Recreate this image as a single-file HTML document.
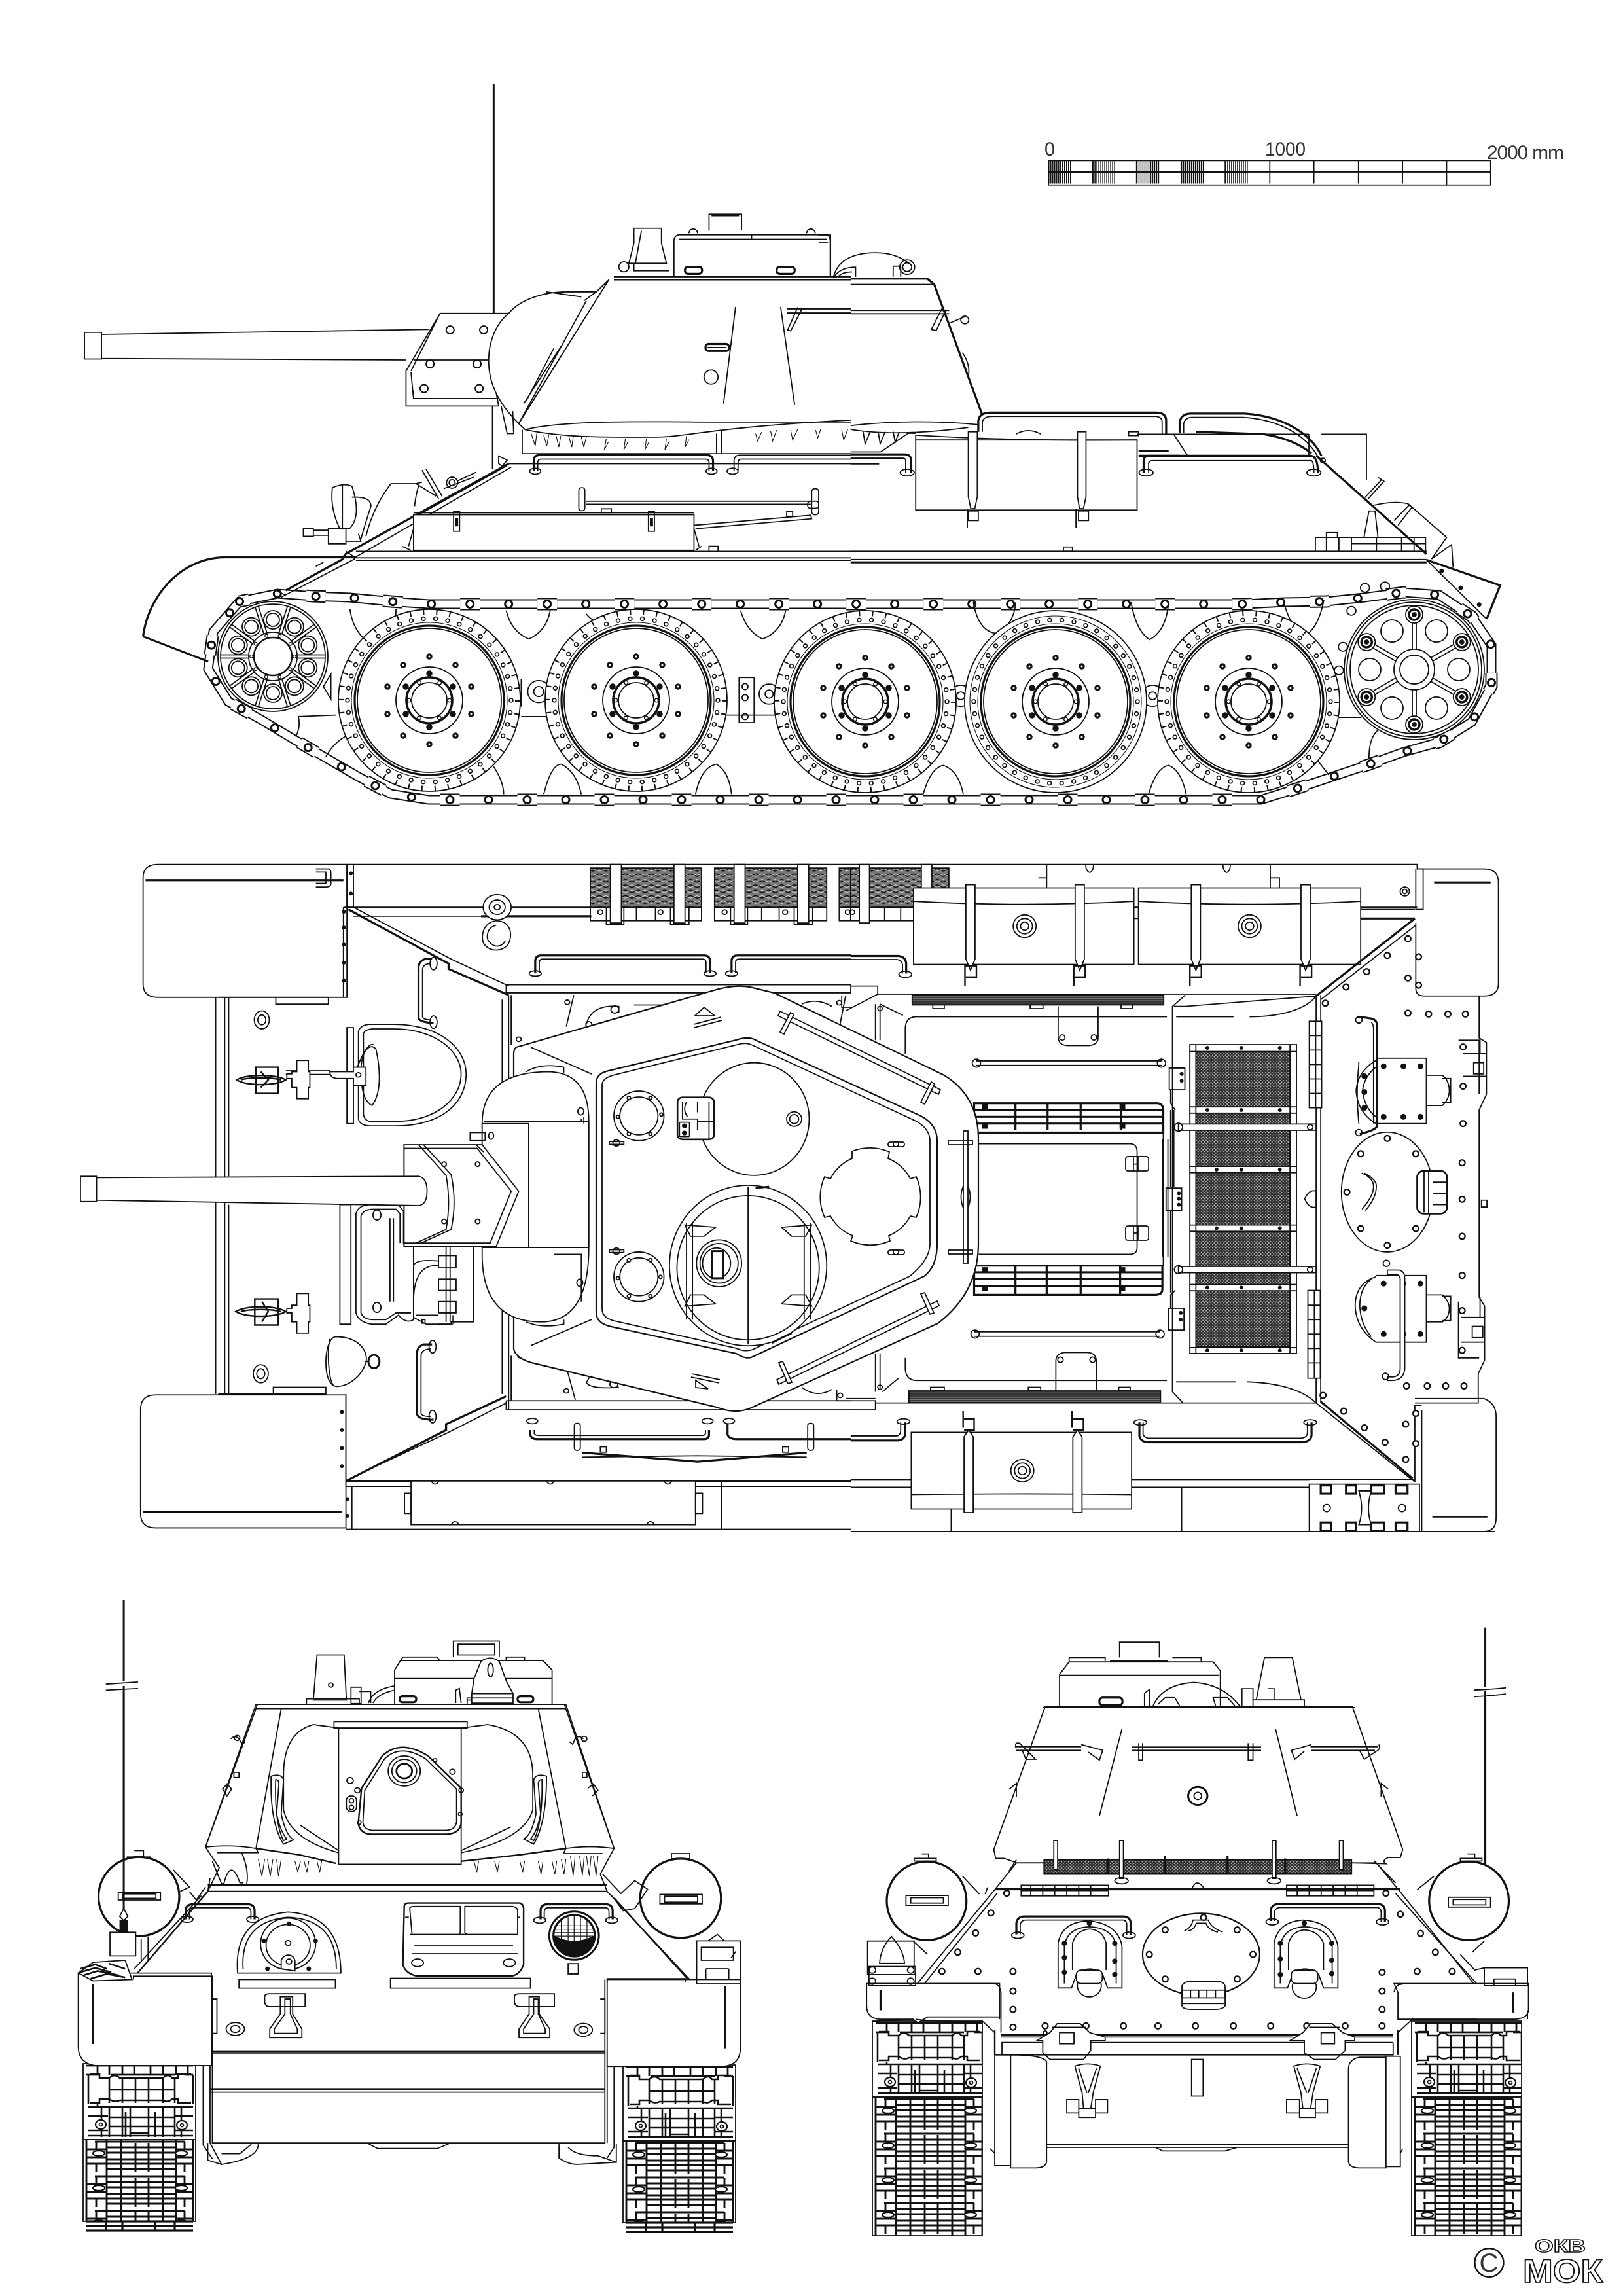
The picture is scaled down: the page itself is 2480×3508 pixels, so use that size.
<!DOCTYPE html>
<html><head><meta charset="utf-8"><title>T-34 drawing</title>
<style>
html,body{margin:0;padding:0;background:#fff}
svg{display:block;fill:none;stroke:#111;stroke-width:1.8}
svg *{vector-effect:non-scaling-stroke}
.w{fill:#fff}.k{fill:#111}.t{stroke-width:3.2}.b{stroke-width:5}.n{stroke-width:1.1}
.dk{stroke-width:11;stroke-linecap:round}.wh{stroke:#fff;stroke-width:6.5;stroke-linecap:round}
.dk2{stroke-width:8;stroke-linecap:round}.wh2{stroke:#fff;stroke-width:4;stroke-linecap:round}
text{font-family:"Liberation Sans",sans-serif;stroke:none;fill:#333}
</style></head><body>
<svg width="2480" height="3508" viewBox="0 0 2480 3508" xmlns="http://www.w3.org/2000/svg">
<defs>
<pattern id="mesh" width="7" height="7" patternUnits="userSpaceOnUse"><rect width="7" height="7" fill="#2a2a2a" stroke="none"/><circle cx="2" cy="2" r="1.5" fill="#bbb" stroke="none"/><circle cx="5.5" cy="5.5" r="1.5" fill="#bbb" stroke="none"/></pattern>
<pattern id="zig" width="26" height="12" patternUnits="userSpaceOnUse"><rect width="26" height="12" fill="#777" stroke="none"/><path d="M0,3 L13,9 L26,3" stroke="#111" stroke-width="2.2"/><path d="M0,9 L13,3 L26,9" stroke="#eee" stroke-width="1"/></pattern>
<pattern id="dark" width="10" height="5" patternUnits="userSpaceOnUse"><rect width="10" height="5" fill="#333" stroke="none"/><path d="M0,2.5H10" stroke="#aaa" stroke-width="1"/></pattern>
<pattern id="tp" width="172" height="116" patternUnits="userSpaceOnUse"><path stroke-width="2.8" d="M5,3H168M5,17H25M42,17H140M155,17H168M22,3V17M40,3V17M60,3V17M78,3V17M103,3V17M122,3V17M142,3V17M160,3V17"/><path stroke-width="2.6" d="M10,16H25V22H40Q48,14 56,22H122Q130,14 136,22H145V16H165M8,17V62M168,17V62M40,22V60M60,22V60M80,22V60M100,22V60M122,22V60M140,22V60M40,40H140M10,60H25V54H40Q48,60 56,56H122Q130,60 136,54H145V60H165"/><path stroke-width="2.6" d="M8,66H168M8,110H168M22,62V66M8,80H38M140,80H168M8,102H38M140,102H168M28,66V112M40,66V112M60,66V112M65,74V112M72,66V112M100,66V112M110,74V112M122,66V112M140,66V112M150,66V112M40,82H140M40,96H140M72,106H100"/><ellipse cx="27" cy="93" rx="8" ry="7" stroke-width="2.2" fill="#fff"/><circle cx="27" cy="93" r="2.5"/><ellipse cx="151" cy="94" rx="8" ry="7" stroke-width="2.2" fill="#fff"/><circle cx="151" cy="94" r="2.5"/></pattern>
<pattern id="tq" width="172" height="53" patternUnits="userSpaceOnUse"><path stroke-width="2.9" d="M36,0V53M58,0V53M80,5V50M100,5V50M122,0V53M142,0V53M18,3H155M36,12H142M5,15H36M142,15H168M36,20H142M5,27H36M142,27H168M36,30H142M5,37H168M36,45H142M20,3V15M20,37V50M155,3V15M155,37V50M5,0V53M168,0V53"/><ellipse cx="24" cy="21" rx="9" ry="4" stroke-width="2.2" fill="#fff"/><ellipse cx="150" cy="21" rx="9" ry="4" stroke-width="2.2" fill="#fff"/></pattern>

<path id="chain" d="M366,919L424,907L479,911L535,913L597,919L655,923H1904L1962,920L2027,919L2084,913L2145,905L2199,909L2249,942L2279,986L2279,1048L2249,1103L2199,1134L2145,1149L2092,1168L2038,1186L1981,1205L1927,1222H655L597,1213L548,1187L498,1158L448,1129L398,1099L349,1072L318,1022L326,965Z"/>
<g id="rwb">
<circle r="125" class="dk2" style="stroke-width:7.5" stroke-dasharray="0 18.7"/>
<circle r="125" class="wh2" style="stroke-width:4" stroke-dasharray="0 18.7"/>
<circle r="119" class="n"/><circle r="114" class="t"/><circle r="110"/>
<circle r="51"/><circle r="35" stroke-width="3.6"/><circle r="27"/>
<circle r="31" class="dk2" style="stroke-width:7" stroke-dasharray="0 32.46"/>
<circle r="31" class="wh2" style="stroke-width:4" stroke-dasharray="0 32.46"/>
<path class="dk" style="stroke-width:9.5" d="M0,-67h0M40,-54h0M64,-21h0M64,21h0M40,54h0M0,67h0M-40,54h0M-64,21h0M-64,-21h0M-40,-54h0M0,-41h0M36,-21h0M36,21h0M0,41h0M-36,21h0M-36,-21h0"/>
<path class="wh" style="stroke-width:3" d="M0,-67h0M40,-54h0M64,-21h0M64,21h0M40,54h0M0,67h0M-40,54h0M-64,21h0M-64,-21h0M-40,-54h0"/>
</g>
<g id="rw"><circle r="139" class="w"/><circle r="135" stroke-width="8" stroke-dasharray="2 18.2"/><use href="#rwb"/></g>
<g id="rw2"><circle r="139" class="w"/><circle r="131" class="n"/><use href="#rwb"/></g>
<g id="sph"><circle cy="-56" r="14"/><circle cy="-56" r="10"/><path transform="rotate(18)" d="M-2.5,-37V-80M2.5,-37V-80"/></g>
<g id="rsp"><path d="M-3,-31V-98M3,-31V-98"/><circle cy="-84" r="13" class="w"/><circle cy="-84" r="8" stroke-width="3.5"/><circle cy="-84" r="3" class="k"/><circle transform="rotate(30)" cy="-68" r="17" class="w"/></g>
</defs>
<rect width="2480" height="3508" fill="#fff" stroke="none"/>

<!-- ============ SIDE VIEW: tracks ============ -->
<use href="#chain" stroke-width="15"/>
<use href="#chain" stroke="#fff" stroke-width="11"/>
<use href="#chain" stroke-width="19" stroke-dasharray="30 88" stroke-dashoffset="15"/>
<use href="#chain" stroke="#fff" stroke-width="15" stroke-dasharray="30 88" stroke-dashoffset="15"/>
<use href="#chain" stroke-width="14" stroke-linecap="round" stroke-dasharray="0 59"/>
<use href="#chain" stroke="#fff" stroke-width="8" stroke-linecap="round" stroke-dasharray="0 59"/>

<!-- side view left half -->
<g transform="translate(100,100) scale(.7653)">
<path d="M855,38V495" stroke-width="3"/>
<path d="M853,680V805" stroke-width="2.4"/>
<!-- gun -->
<path d="M38,533H72V586H38ZM72,537L725,527M72,585L680,588"/>
<path class="w" d="M748,495H885L870,530L850,600L865,680H680V610Z"/>
<path d="M690,613L695,665H865M695,650V665M695,588H855M748,495L690,610"/>
<path class="dk2" d="M768,528h0M835,528h0M728,596h0M822,596h0M716,645h0M826,645h0" style="stroke-width:14"/>
<path class="wh2" d="M768,528h0M835,528h0M728,596h0M822,596h0M716,645h0M826,645h0" style="stroke-width:10"/>
<!-- turret cast -->
<path class="w" d="M885,495C905,470 950,452 1000,452H1060L1085,428L905,715C870,680 845,640 845,590C845,550 860,515 885,495Z"/>
<path d="M960,452L1030,462M1035,470L1060,452M1040,470L905,715M990,560L915,675M975,565L920,670M870,680L882,735L895,735L893,690"/>
<path fill="#fff" stroke="none" d="M1085,428L908,715L918,727C1000,745 1100,742 1180,742C1240,742 1290,722 1568,708V425H1095Z"/>
<path d="M1085,428L905,715L918,727C1000,745 1100,742 1180,742C1240,742 1290,722 1568,708"/>
<path d="M918,727C1000,706 1200,712 1310,712H1568M1095,422H1568M1095,428H1568"/>
<path d="M1338,482L1314,675M1428,482L1456,678M1440,486H1568M1440,494H1568M1462,483L1442,528L1448,530L1470,487"/>
<rect x="1278" y="556" width="47" height="14" rx="6" class="t"/><path d="M1282,563H1320"/><ellipse cx="1289" cy="622" rx="14" ry="14"/>
<!-- cupola -->
<path d="M1215,420V350Q1215,340 1225,338H1520Q1527,340 1527,352V420M1225,347H1520M1370,338V347"/>
<path d="M1285,330V297H1350V328M1290,300H1345M1245,335A8,8 0 0 1 1262,335M1480,335A8,8 0 0 1 1497,335"/>
<rect x="1237" y="402" width="34" height="14" rx="6" class="t"/><rect x="1420" y="402" width="36" height="14" rx="6" class="t"/>
<path d="M1135,325H1190V355L1200,395H1125L1135,355ZM1135,395V410H1205M1150,330L1138,395"/>
<circle cx="1115" cy="402" r="10"/>
<!-- spikes & vertical -->
<path d="M912,727V775M1310,730V775M1300,735V775"/>
<path class="n" d="M930,735l8,25l3,-25M955,738l6,22l4,-22M980,740l5,22l4,-22M1005,740l6,22l3,-22M1030,742l5,20l5,-20M1080,745l-4,22l8,-15M1118,745l-3,22l8,-15M1160,745l-3,22l8,-15M1200,745l-3,22l8,-15M1240,740l-3,22l8,-15M1378,735l4,15l8,-18M1408,730l4,20l8,-22M1448,728l4,20l10,-22M1498,728l4,16l6,-18M1550,728l4,20l8,-22"/>
<!-- hull -->
<path d="M912,775H1568M885,795H1568M865,780L882,788L872,800L865,795Z"/>
<path class="t" d="M885,795L560,975L552,985"/>
<path d="M890,802L575,984M880,800L700,900"/>
<path class="t" d="M555,985L440,1048"/>
<path d="M578,985L430,1062M420,1048L440,1058M500,1000l15,-8M560,970l18,12"/>
<path class="t" d="M935,810V790Q935,778 947,778H1280Q1293,778 1293,790V810"/>
<path d="M943,810V793Q943,786 950,786H1278Q1285,786 1285,793V810M1335,810V790Q1335,778 1347,778H1568M1343,810V793Q1343,786 1350,786H1568"/>
<ellipse cx="938" cy="810" rx="11" ry="6"/><ellipse cx="1290" cy="810" rx="11" ry="6"/><ellipse cx="1332" cy="810" rx="11" ry="6"/>
<!-- rail/crowbar -->
<path d="M1040,870H1488M1040,876H1488M1255,918L1488,898L1490,905L1258,925M1070,885h20v8h-20zM1440,890h12v10h-12z"/>
<rect x="1025" y="843" width="12" height="46" rx="5"/><rect x="1490" y="845" width="14" height="52" rx="6"/><rect x="1482" y="870" width="22" height="14" rx="5"/>
<!-- box -->
<path class="w" d="M695,897H1255V968H695Z"/><path d="M695,893H1255M685,960L695,925M1255,925L1265,960M1258,968L1270,960M672,960L690,968"/>
<path d="M775,890V930H787V890ZM1164,890V930H1176V890Z"/><path class="k" d="M779,905h4v14h-4zM1168,905h4v14h-4z"/>
<!-- lamp & co -->
<path class="w" d="M533,843Q528,885 548,925H567Q592,900 572,840Q555,833 533,843Z"/>
<path d="M553,838L553,927M572,862Q610,860 610,880Q600,910 590,945M600,940Q615,880 650,835H700L712,832M700,835L740,860M705,840Q700,855 697,880"/>
<path d="M475,925H495V940H475ZM495,928H525M495,938H525M525,925H560V955H525ZM560,950L590,950L585,935"/>
<path d="M712,808L745,865M720,806L752,860"/><circle cx="772" cy="833" r="11"/><circle cx="772" cy="833" r="6"/><path d="M782,830L820,812M755,845L815,822"/>
<!-- fender -->
<path class="t" d="M155,1140C165,1060 230,982 320,982H580"/>
<path style="stroke-width:3" d="M155,1140L285,1190"/>
<path d="M580,970H1568M580,983H1568M580,988H1568M1285,960h18v10h-18z"/>
<!-- suspension shields -->
<path d="M568,1085Q575,1140 625,1165Q660,1140 660,1085M880,1088Q890,1130 925,1145Q960,1130 968,1088M1040,1095Q1060,1120 1080,1100M1348,1088Q1360,1130 1392,1145Q1430,1130 1438,1088M955,1455Q970,1395 990,1395Q1020,1410 1030,1455M1258,1455Q1270,1400 1300,1395Q1325,1410 1330,1455M855,1400Q875,1430 875,1455M520,1380Q540,1345 570,1335M460,1340Q470,1320 465,1300L540,1297M910,1300H960M1320,1297H1420"/>
<!-- shock mount -->
<rect x="1345" y="1222" width="30" height="90"/><circle cx="1357" cy="1240" r="6"/><circle cx="1357" cy="1262" r="6"/><circle cx="1357" cy="1300" r="6"/><circle cx="1405" cy="1255" r="20"/><circle cx="1405" cy="1255" r="8"/><circle cx="945" cy="1250" r="22"/><circle cx="945" cy="1250" r="10"/><path d="M910,1225V1280M515,1240l15,-25v50z"/>
</g>

<!-- side view right half -->
<g transform="translate(1250,150) scale(.7653,.7334)">
<path d="M25,370V285H0M1,300H20"/>
<path d="M30,375Q42,322 115,322Q160,322 188,350"/>
<path d="M32,372Q45,352 75,352V372M40,372Q48,362 68,362M150,372V350H165V372"/><circle cx="178" cy="352" r="15"/><circle cx="178" cy="352" r="9"/>
<path class="t" d="M65,376H218L232,388"/>
<path class="t" d="M232,388L328,660"/>
<path d="M65,388H232M65,442H262M65,449H262M248,437L226,482L236,484L256,440M264,468L296,454"/><circle cx="293" cy="462" r="8"/><path d="M288,530Q305,555 300,580"/>
<path d="M65,682C150,672 240,672 320,680V690M65,690C120,700 200,700 300,686M90,695l4,25l10,-25M120,695l4,25l10,-25M150,695l4,22l8,-22"/>
<path class="t" d="M320,695V672Q322,655 345,655H675Q695,655 695,672V700"/>
<path d="M328,695V675Q330,663 347,663H673Q687,663 687,675V700"/>
<path class="t" d="M722,698V675Q725,657 745,657H850C930,662 985,700 1005,745"/>
<path d="M730,698V678Q733,665 747,665H850C925,670 975,705 997,745"/>
<!-- deck -->
<path d="M65,737H125M125,737L180,698H195M637,700H980M710,700L738,745M1005,700H1095V795M980,700V745M65,762H122"/>
<path class="t" d="M640,735H700M640,745H720M755,695L890,700Q950,710 985,740"/>
<path class="t" d="M185,780V752Q185,742 172,742H65"/><path d="M175,780V755Q175,750 168,750H65"/>
<ellipse cx="178" cy="780" rx="14" ry="7"/><ellipse cx="655" cy="780" rx="14" ry="7"/><ellipse cx="990" cy="780" rx="14" ry="7"/>
<path class="w" d="M195,702Q400,715 637,712V858H195Z"/>
<path d="M195,712H637M395,700Q420,685 445,700M620,695h20v8h-20z"/>
<path class="t" d="M650,780V756Q650,745 662,745H985Q998,748 998,780"/><path d="M660,780V762Q660,755 668,755H985Q990,758 990,780"/>
<path class="w" d="M300,695H318V830L313,855H305L300,830ZM518,695H535V830L530,855H522L518,830Z"/>
<path d="M298,855V895M515,855V895M300,860h20v20h-20zM520,860h20v20h-20z"/>
<!-- slope -->
<path class="t" d="M995,745L1215,950"/><circle cx="1008" cy="755" r="5"/>
<path d="M1125,795L1092,832M1118,790L1130,798L1098,835M1100,860L1090,915H1118L1112,860ZM1110,848Q1150,838 1178,845L1255,915L1225,960L1265,930L1268,978M1150,880L1180,848L1186,852L1158,890"/>
<path d="M993,915H1213V945H993ZM1015,905h22v10h-22zM1065,915V945M1115,915V945M1165,915V945M1015,915V945M1040,915V945M1190,915V945M1065,928H1213"/>
<!-- fender -->
<path d="M65,944H1215"/><path d="M65,961H1215"/><path d="M65,967H1215" class="t"/><path d="M490,935h18v9h-18z"/>
<path class="t" d="M1215,962L1362,1015L1335,1085"/><path d="M1215,962L1335,1085"/>
<path class="dk2" style="stroke-width:7" d="M1245,985h0M1283,1020h0M1320,1055h0"/>
<!-- small circles -->
<circle cx="1092" cy="1020" r="9"/><circle cx="1132" cy="1017" r="9"/><circle cx="1065" cy="1068" r="9"/><circle cx="1048" cy="1143" r="9"/><circle cx="1040" cy="1192" r="9"/>
<!-- shields -->
<path d="M310,1050Q320,1110 355,1115Q390,1100 395,1050M625,1050Q635,1110 662,1128Q695,1110 700,1050M930,1050Q945,1110 975,1118Q1000,1100 1010,1045M210,1450Q225,1395 250,1390Q280,1400 290,1450M660,1450Q675,1395 700,1390Q725,1400 735,1450M1100,1375Q1100,1330 1120,1315M990,1370L1020,1410M1040,1290H1085"/>
<circle cx="285" cy="1245" r="22"/><circle cx="285" cy="1245" r="8"/><circle cx="668" cy="1245" r="22"/><circle cx="668" cy="1245" r="8"/>
<!-- scale bar -->
<path d="M460,130H1343V181H460ZM460,154H1343M548,130V178M636,130V178M725,130V178M813,130V178M902,130V178M990,130V178M1079,130V178M1167,130V178M1255,130V181"/>
<path stroke-width="35" stroke-dasharray="1.5 1.5" d="M460,154H505M548,154H593M636,154H681M725,154H770M813,154H858"/>
<path d="M460,154H858"/>
</g>
<text x="1596" y="238" font-size="30" textLength="16" lengthAdjust="spacingAndGlyphs">0</text>
<text x="1933" y="238" font-size="30" textLength="62" lengthAdjust="spacingAndGlyphs">1000</text>
<text x="2272" y="243" font-size="30" textLength="118" lengthAdjust="spacing">2000 mm</text>

<!-- wheels / sprockets -->
<use href="#rw" x="656" y="1070"/><use href="#rw" x="972" y="1070"/><use href="#rw" x="1322" y="1072"/><use href="#rw2" x="1613" y="1072"/><use href="#rw" x="1908" y="1072"/>
<g transform="translate(417,1003)"><circle r="84" class="w"/><circle r="80"/>
<use href="#sph"/><use href="#sph" transform="rotate(36)"/><use href="#sph" transform="rotate(72)"/><use href="#sph" transform="rotate(108)"/><use href="#sph" transform="rotate(144)"/><use href="#sph" transform="rotate(180)"/><use href="#sph" transform="rotate(216)"/><use href="#sph" transform="rotate(252)"/><use href="#sph" transform="rotate(288)"/><use href="#sph" transform="rotate(324)"/>
<circle r="37"/><circle r="29" stroke-width="2.4"/><circle r="33" class="dk2" style="stroke-width:6" stroke-dasharray="0 20.73"/><circle r="33" class="wh2" style="stroke-width:3.4" stroke-dasharray="0 20.73"/></g>
<g transform="translate(2161,1023)"><circle r="107" class="w"/><circle r="103"/><circle r="98"/>
<use href="#rsp"/><use href="#rsp" transform="rotate(60)"/><use href="#rsp" transform="rotate(120)"/><use href="#rsp" transform="rotate(180)"/><use href="#rsp" transform="rotate(240)"/><use href="#rsp" transform="rotate(300)"/>
<circle r="31" class="w"/><circle r="22"/></g>

<!-- ============ TOP VIEW left base ============ -->
<g transform="translate(100,1300) scale(.7653,.6887)">
<path class="w" d="M185,30H562V325H185Q155,325 155,295V60Q155,30 185,30Z"/>
<path class="t" d="M160,65H555"/><path d="M500,40H525Q530,40 530,50V72Q530,80 520,80H500M500,47H520V72H500"/>
<path d="M562,30H1568M562,30V125H575V30"/>
<path class="dk2" style="stroke-width:6" d="M570,50h0M570,95h0M556,135h0M556,170h0M556,208h0M556,248h0M556,288h0"/>
<path d="M555,125V325M555,125H1050M575,145H1050"/><path class="t" d="M830,145H1050"/>
<path class="t" d="M565,130L765,250V262L885,320"/><path d="M575,125L770,240L885,300"/>
<circle cx="862" cy="125" r="28" class="w"/><circle cx="862" cy="125" r="16"/><circle cx="862" cy="125" r="6"/>
<path d="M860,155C830,160 830,195 835,205C845,225 875,225 885,205C895,180 885,155 860,155ZM860,165C840,170 840,195 845,200C855,215 870,215 878,200"/>
<!-- spare track -->
<rect x="1048" y="38" width="222" height="87" fill="url(#zig)"/><rect x="1296" y="38" width="224" height="87" fill="url(#zig)"/><rect x="1545" y="38" width="30" height="87" fill="url(#zig)"/>
<path d="M1048,125V155H1270V125M1296,125V155H1520V125M1545,125V155H1568M1140,125V155M1178,125V155M1390,125V155M1425,125V155"/>
<path class="w" d="M1088,30H1110V160H1088ZM1215,30H1237V160H1215ZM1335,30H1357V160H1335ZM1462,30H1484V160H1462Z"/>
<path d="M1080,125V163H1115V125M1208,125V163H1245V125M1328,125V163H1362V125M1455,125V163H1492V125"/>
<circle cx="1068" cy="136" r="5"/><circle cx="1188" cy="136" r="5"/><circle cx="1316" cy="136" r="5"/><circle cx="1437" cy="136" r="5"/><circle cx="1562" cy="136" r="5"/>
<!-- rails -->
<path class="t" d="M938,270V245Q938,232 950,232H1275Q1287,232 1287,245V270"/><path d="M946,270V248Q946,240 953,240H1272Q1279,240 1279,248V270"/>
<ellipse cx="938" cy="272" rx="12" ry="6"/><ellipse cx="1287" cy="272" rx="12" ry="6"/><ellipse cx="1330" cy="272" rx="12" ry="6"/>
<path class="t" d="M1330,270V245Q1330,232 1342,232H1568"/><path d="M1338,270V248Q1338,240 1345,240H1568"/>
<path class="t" d="M732,240H718Q705,245 705,260V370Q705,380 735,382"/><path d="M730,250Q715,250 713,262V368Q715,375 730,375"/><ellipse cx="735" cy="250" rx="7" ry="14"/><ellipse cx="735" cy="380" rx="7" ry="14"/>
<path class="t" d="M732,1095H715Q702,1100 702,1115V1250Q705,1262 735,1262"/><path d="M730,1105Q712,1105 710,1118V1248Q712,1255 730,1255"/><ellipse cx="733" cy="1100" rx="7" ry="14"/><ellipse cx="733" cy="1255" rx="7" ry="14"/>
<!-- hull front -->
<path d="M300,325V1205M318,325V1205M326,325V722M326,785V1205M305,325H525V340H420V325M872,330V1205M885,320V1240"/>
<ellipse cx="392" cy="375" rx="15" ry="20"/><ellipse cx="392" cy="375" rx="8" ry="11"/><ellipse cx="390" cy="1160" rx="15" ry="20"/><ellipse cx="390" cy="1160" rx="8" ry="11"/>
<!-- lower fender -->
<path class="w" d="M180,1207H560V1502H180Q150,1502 150,1470V1240Q150,1207 180,1207Z"/><path class="t" d="M155,1467H552"/>
<path d="M305,1205H520V1190H415V1205"/>
<path class="dk2" style="stroke-width:6" d="M552,1245h0M552,1285h0M552,1325h0M552,1365h0M563,1438h0M563,1475h0"/>
<path d="M560,1207V1410M572,1410V1505M560,1505H1568M560,1410H1568"/><path class="t" d="M560,1398H1568"/>
<path class="t" d="M560,1398L760,1285V1272L880,1210"/><path d="M572,1390L765,1290L880,1225"/>
<path class="w" d="M690,1398H1258V1495H690Z"/><path d="M677,1425H690V1470H677ZM1258,1425H1272V1470H1258ZM1310,1398V1505M730,1398q8,14 16,0M960,1398q8,14 16,0M1195,1398q8,14 16,0M770,1495q8,-14 16,0M1160,1495q8,-14 16,0"/>
<!-- rails below -->
<path class="t" d="M928,1285V1295Q930,1305 942,1305H1275Q1285,1305 1285,1295V1285"/><path d="M936,1285V1293Q938,1297 945,1297H1272Q1278,1297 1278,1290V1285"/><ellipse cx="932" cy="1265" rx="11" ry="6"/><ellipse cx="1282" cy="1265" rx="11" ry="6"/><ellipse cx="1325" cy="1265" rx="11" ry="6"/>
<path class="t" d="M1322,1272V1295Q1325,1305 1340,1305H1568"/>
<rect x="1016" y="1270" width="12" height="60" rx="5"/><rect x="1482" y="1270" width="12" height="60" rx="5"/>
<path class="t" d="M1032,1335L1262,1355L1480,1335"/><path d="M1032,1345L1262,1342L1480,1345M1068,1322h12v12h-12zM1432,1322h12v12h-12z"/>
<!-- driver area -->
<path d="M562,392H575V605H562Z"/><path d="M585,400Q590,385 610,385H655C750,385 800,440 800,495C800,560 750,610 660,610H610Q588,610 585,595ZM595,405Q600,395 615,395H655C740,395 790,445 790,495C790,550 740,600 660,600H610Q598,600 595,585Z" class="w"/>
<path d="M590,490C590,440 610,425 620,440C630,490 630,540 612,565C595,555 590,525 590,490ZM580,490C590,455 605,425 615,430"/>
<path class="w" d="M528,490H575V480H600V520H575V505H545Q528,505 528,490Z"/><circle cx="585" cy="497" r="5"/>
<path d="M440,488H528M440,496H528"/>
<path d="M462,465H485V490H488V525H485V550H462V525H452V505H442V495H452V490H462Z" class="w"/><path d="M380,480H425V538H380ZM342,508C360,495 420,495 440,508C420,522 360,522 342,508ZM350,508C370,502 410,502 430,508M390,490L405,508L390,525" stroke-width="2.4"/>
<path d="M462,982H485V1008H488V1045H485V1070H462V1045H452V1025H442V1015H452V1008H462Z" class="w"/><path d="M378,994H425V1052H378ZM340,1022C360,1008 420,1008 440,1022C420,1036 360,1036 340,1022ZM350,1022C370,1016 410,1016 430,1022M392,1000L405,1022L392,1045" stroke-width="2.4"/>
<path class="w" d="M520,1135C520,1100 530,1078 540,1078C590,1078 605,1115 600,1135C590,1170 560,1190 540,1188C525,1185 520,1160 520,1135Z"/><path d="M528,1083C522,1110 525,1170 535,1186"/><ellipse cx="616" cy="1133" rx="11" ry="15" stroke-width="3"/><path d="M598,1133H605"/>
<path d="M548,785H570V1050H548Z"/>
<path class="w" d="M580,805Q585,785 610,785H665L675,800V870H695V1040Q680,1050 665,1030L640,1050H610Q585,1045 580,1025Z"/>
<path d="M590,810Q595,795 615,795H660L668,805V870M590,810V1025Q595,1040 615,1040H640L660,1025H690"/><ellipse cx="622" cy="808" rx="8" ry="11"/><ellipse cx="622" cy="1013" rx="8" ry="11"/><path d="M648,815V1000M655,815V1000"/>
<path class="w" d="M695,875H815V1045H770V1050H720L695,1035Z"/><path d="M695,920Q700,905 745,910M695,1000Q695,925 735,920H750M700,1030H745"/>
<path class="w" d="M745,898H780V925H745ZM745,950H780V975H745ZM745,1000H780V1025H745Z"/><path d="M760,880V1045M768,880V1045M745,1050H772V1030"/><path d="M775,1030V1050M712,1040h6v8h-6z"/>
<!-- turret ring & frame -->
<path d="M880,297H1568V315H880ZM890,320V430M890,1120V1220M880,1220H1568M880,1220V1240H1568"/>
<path d="M1015,320L1000,390M1000,1145L1018,1218M1040,385Q1050,340 1105,345V360M1050,1160L1040,1180Q1050,1195 1105,1190M1135,342H1260"/>
<circle cx="1002" cy="336" r="5"/><circle cx="1045" cy="385" r="6"/><circle cx="1097" cy="352" r="8"/><circle cx="1000" cy="1198" r="5"/><circle cx="1095" cy="1183" r="8"/><circle cx="905" cy="418" r="5"/><circle cx="908" cy="1120" r="5"/>
<path d="M1470,340Q1500,325 1530,345M1470,1190Q1500,1215 1530,1195M1550,322v25h18M1540,1195v25h28"/><circle cx="1545" cy="337" r="5"/><circle cx="1547" cy="1208" r="5"/>
</g>

<!-- ============ TOP VIEW right base ============ -->
<g transform="translate(1250,1300) scale(.7015,.6887)">
<rect x="71" y="38" width="214" height="87" fill="url(#zig)"/>
<path d="M71,30H498M71,125V155H210M71,125H285M145,125V155M180,125V155"/>
<path class="w" d="M90,30H112V160H90ZM225,30H248V160H225Z"/>
<circle cx="75" cy="136" r="5"/>
<path d="M498,30H985M498,30V85M985,30V85M480,60H498V85M985,60H1005V85M583,30Q583,45 592,48Q600,45 600,30M882,30Q882,45 890,48Q898,45 898,30"/>
<path d="M985,30H1305V40H1318V130H1302V40M1182,125H1305M1182,130H1300"/>
<path class="t" d="M1182,150H1300"/>
<path d="M1305,40H1450Q1482,40 1482,70V295Q1482,322 1450,322H1320Q1302,322 1302,305V160"/><path class="t" d="M1342,70H1465"/>
<circle cx="1278" cy="90" r="10"/><circle cx="1278" cy="90" r="5"/>
<!-- boxes top -->
<path class="w" d="M208,82H688V252H208ZM698,82H1182V252H698Z"/><path d="M208,112Q450,125 688,112M698,112Q940,125 1182,112M688,125H698V150H688"/>
<circle cx="450" cy="167" r="25"/><circle cx="450" cy="167" r="17"/><circle cx="450" cy="167" r="9"/><circle cx="940" cy="167" r="25"/><circle cx="940" cy="167" r="17"/><circle cx="940" cy="167" r="9"/>
<path class="w" d="M322,75H342V240L332,265L322,240ZM560,75H580V240L570,265L560,240ZM813,75H833V240L823,265L813,240ZM1052,75H1072V240L1062,265L1052,240Z"/>
<path d="M320,300V255H345V280H322M557,300V255H582V280H560M810,300V255H835V280H812M1050,300V255H1075V280H1052" stroke-width="2.4"/>
<!-- rail -->
<path class="t" d="M71,233H175Q192,235 192,252V272"/><path d="M71,241H172Q184,243 184,255V272"/><ellipse cx="190" cy="274" rx="14" ry="7"/>
<!-- deck -->
<path d="M71,300H130V318H1085M130,318L60,355M60,322L45,400"/>
<rect x="205" y="320" width="548" height="22" fill="url(#dark)"/>
<path d="M71,1220H125V1240H71M125,1225H1085M60,1215H125"/>
<rect x="198" y="1198" width="548" height="26" fill="url(#dark)"/>
<path d="M245,1190H275V1198H245ZM458,1190H485V1198H458ZM655,1190H680V1198H655ZM250,342V350H275V342M462,342V350H490V342M660,342V350H685V342"/>
<path d="M523,345V415Q525,432 545,432H590Q610,430 610,415V345"/><circle cx="532" cy="414" r="6"/><circle cx="601" cy="414" r="6"/>
<path d="M518,1198V1130Q520,1113 540,1113H585Q605,1113 606,1130V1198"/><circle cx="528" cy="1129" r="6"/><circle cx="598" cy="1129" r="6"/>
<path d="M190,450V395Q190,368 215,368H700M238,368H760M190,1125V1150Q192,1175 215,1175H760M775,345H800L1085,322M800,320L772,345V1200L795,1225M940,368C1000,368 1060,355 1085,322M780,368H905M935,1178C1000,1180 1055,1195 1085,1225M780,1178H910"/>
<path d="M135,340L185,365M140,1200L175,1170M135,340V420M135,1115V1195M125,340V420M125,1115V1200"/>
<circle cx="135" cy="350" r="5"/><circle cx="135" cy="1190" r="5"/>
<!-- rails horizontal -->
<path d="M345,466H750M345,476H750"/><circle cx="345" cy="471" r="9"/><circle cx="748" cy="471" r="9"/>
<path d="M340,1067H745M340,1077H745"/><circle cx="342" cy="1072" r="9"/><circle cx="745" cy="1072" r="9"/>
<!-- engine grilles -->
<g class="t"><path d="M340,560H740Q752,562 752,575V625H340ZM340,575H752M340,590H752M340,605H752M430,560V620M500,560V620M572,560V620M660,560V620"/></g>
<g class="t"><path d="M340,920H750V972Q750,985 735,985H340ZM340,935H750M340,950H750M340,965H750M430,920V985M498,920V985M572,920V985M658,920V985"/></g>
<path class="k" d="M358,562h10v10h-10zM658,562h10v10h-10zM358,605h10v10h-10zM658,605h10v10h-10zM358,925h10v10h-10zM658,925h10v10h-10zM358,965h10v10h-10zM658,965h10v10h-10z"/>
<path d="M340,625H752V920H340M350,650H680Q695,650 695,668V880Q695,895 680,895H350"/>
<rect x="670" y="678" width="50" height="32" rx="5"/><path d="M687,678V710M697,678V710M687,695H697"/><rect x="670" y="832" width="50" height="32" rx="5"/><path d="M687,832V864M697,832V864M687,848H697"/>
<path d="M750,640V900M762,640V900"/>
<rect x="758" y="748" width="34" height="50"/><rect x="765" y="482" width="34" height="48"/><rect x="763" y="1015" width="34" height="48"/>
<path d="M768,530V560L778,575M768,1015V985L778,975M768,575V745M768,800V980M775,575V745"/>
<path class="dk2" style="stroke-width:6" d="M786,760h0M786,772h0M786,785h0M792,495h0M792,510h0M790,1025h0M790,1040h0"/>
<!-- mesh -->
<rect x="810" y="430" width="232" height="685"/>
<rect x="823" y="445" width="205" height="655" fill="url(#mesh)"/>
<path class="w" d="M810,568H1042V582H810ZM810,700H1042V714H810ZM810,830H1042V844H810ZM810,962H1042V976H810ZM810,430H1042V445H810ZM810,1102H1042V1115H810ZM810,430H823V1115H810ZM1028,430H1042V1115H1028Z"/>
<path class="dk2" style="stroke-width:6" d="M848,437h0M922,437h0M1006,437h0M848,575h0M922,575h0M1006,575h0M868,707h0M922,707h0M1006,707h0M868,837h0M922,837h0M1006,837h0M848,969h0M922,969h0M1006,969h0M848,1108h0M922,1108h0M1006,1108h0"/>
<path class="w" d="M785,606H1085V620H785ZM785,922H1085V936H785Z"/><circle cx="785" cy="613" r="9"/><circle cx="1072" cy="613" r="6"/><circle cx="785" cy="929" r="9"/><circle cx="1072" cy="929" r="6"/>
<path d="M1085,320V1225M1095,320V1225"/><path class="w" d="M1070,378H1097V570H1070ZM1067,975H1094V1170H1067Z"/><path d="M1084,378V570M1081,975V1170M1070,410H1097M1070,442H1097M1070,474H1097M1070,506H1097M1070,538H1097M1067,1008H1094M1067,1040H1094M1067,1072H1094M1067,1104H1094M1067,1136H1094"/>
<path d="M1060,772Q1070,750 1085,755V790Q1070,795 1060,772Z"/>
<!-- rear plate -->
<path class="t" d="M1085,322L1300,150"/><path d="M1095,330L1302,165M1085,1225L1300,1400"/><path class="t" d="M1095,1222L1295,1392"/>
<path d="M1440,322V415L1456,425V540L1440,575V990L1452,1010V1130L1438,1160V1225H1300"/>
<path d="M1300,1215H1450Q1477,1225 1477,1255V1480Q1477,1510 1450,1510H1315V1240M1338,1478H1458"/><path d="M1315,1230H1300V1400"/>
<defs><path id="tr" d="M1105,338h0M1150,302h0M1195,268h0M1240,232h0M1285,195h0M1285,282h0M1308,235h0M1308,298h0M1285,360h0M1330,362h0M1372,362h0M1410,362h0M1405,435h0M1405,522h0M1405,605h0M1403,692h0M1403,773h0M1403,855h0M1403,942h0M1403,1020h0M1403,1108h0M1100,1208h0M1145,1243h0M1190,1280h0M1235,1312h0M1280,1350h0M1280,1272h0M1302,1248h0M1302,1315h0M1282,1187h0M1327,1187h0M1367,1187h0M1407,1187h0M1240,638h0M1182,672h0M1302,672h0M1152,757h0M1182,838h0M1302,838h0M1240,875h0"/></defs>
<use href="#tr" class="dk"/><use href="#tr" class="wh"/>
<!-- tow hatch -->
<ellipse cx="1240" cy="757" rx="100" ry="133"/><path d="M1184,715Q1210,725 1210,745Q1210,765 1185,795M1190,715Q1218,730 1216,745Q1216,770 1192,798"/>
<rect x="1305" y="710" width="65" height="95" rx="14" class="w" stroke-width="2.6"/><path d="M1330,710V805M1340,735H1370M1340,760H1370M1340,785H1370M1320,712V802"/>
<path d="M1178,468C1178,490 1170,520 1178,605M1215,460H1325V605H1215M1215,465Q1175,490 1172,532Q1175,580 1215,605M1215,480Q1190,500 1186,532Q1190,570 1215,590M1325,498H1360Q1375,510 1375,532Q1375,550 1360,565H1325M1360,505H1378V558H1360"/>
<path class="t" d="M1175,368Q1180,368 1205,372Q1218,375 1218,390V610Q1215,620 1180,628"/><path d="M1205,380Q1210,385 1210,395V605"/><circle cx="1178" cy="375" r="7"/><circle cx="1178" cy="625" r="7"/>
<path class="dk" style="stroke-width:9" d="M1232,478h0M1275,478h0M1312,478h0M1232,590h0M1275,590h0M1312,590h0M1232,960h0M1275,960h0M1312,960h0M1232,1072h0M1275,1072h0M1312,1072h0M1190,500h0M1190,535h0M1190,570h0M1190,1015h0"/>
<path d="M1215,942H1325V1090H1215M1215,945Q1170,960 1170,1010Q1172,1060 1215,1090M1205,950Q1180,970 1180,1010Q1182,1050 1205,1078M1325,985H1360Q1375,1000 1375,1015Q1375,1035 1360,1045H1325M1360,988H1378V1042H1360"/>
<path class="w" d="M1240,930H1265Q1278,932 1278,948V1150Q1275,1175 1250,1175H1240V1167H1248Q1268,1168 1268,1148V950Q1268,940 1258,940H1240Z"/><circle cx="1238" cy="915" r="7"/><circle cx="1236" cy="1166" r="7"/>
<path d="M1395,420H1440V540M1395,1000V1125H1440M1405,450H1456M1405,500H1456M1428,470H1450V495H1428ZM1400,1035H1452M1400,1090H1452M1425,1055H1448V1080H1425ZM1442,415V450M1442,990V1035M1445,775h12v15h-12z"/>
<!-- lower box and rails -->
<path class="t" d="M700,1268V1300Q705,1312 720,1312H1055Q1075,1310 1075,1295V1268"/><path d="M708,1268V1295Q712,1303 722,1303H1052Q1066,1302 1066,1290V1268"/><ellipse cx="702" cy="1268" rx="14" ry="6"/><ellipse cx="1072" cy="1268" rx="14" ry="6"/>
<path class="t" d="M71,1308H175Q190,1306 190,1290V1268"/><path d="M71,1298H172Q180,1296 180,1285V1268"/><ellipse cx="186" cy="1266" rx="14" ry="6"/>
<path d="M71,1395H1300M71,1412H1300M71,1510H1475M290,1412V1510M792,1412V1510"/><path class="t" d="M71,1395H1070"/>
<path class="w" d="M203,1290H683V1460H203Z"/><path d="M203,1428Q450,1425 683,1428"/>
<circle cx="445" cy="1375" r="25"/><circle cx="445" cy="1375" r="17"/><circle cx="445" cy="1375" r="9"/>
<path class="w" d="M318,1300L328,1285L338,1300V1468H318ZM555,1300L565,1285L575,1300V1468H555Z"/>
<path d="M316,1243V1280M318,1260H340V1285H318M553,1243V1280M555,1260H578V1285H555" stroke-width="2.4"/>
<!-- spare link -->
<path class="w" d="M1070,1405H1310V1510H1070Z"/>
<path class="t" d="M1095,1408h22v18h-22zM1150,1408h22v18h-22zM1205,1408h28v18h-28zM1258,1408h26v18h-26zM1095,1490h22v18h-22zM1150,1490h22v18h-22zM1205,1490h28v18h-28zM1258,1490h26v18h-26z"/>
<path d="M1178,1420Q1190,1460 1178,1495H1205Q1193,1460 1205,1420Z"/><circle cx="1108" cy="1458" r="8"/><circle cx="1272" cy="1458" r="8"/>
</g>

<!-- ============ TURRET (real coordinates) ============ -->
<path class="w" stroke-width="2.2" d="M789,1600L1091,1513Q1125,1503 1150,1509L1183,1517L1443,1643Q1495,1675 1495,1740V1900Q1495,1975 1433,2022L1150,2150Q1125,2162 1095,2150L812,2082Q788,2075 785,2061V1610Q785,1603 789,1600Z"/>
<path stroke-width="2.2" d="M911,1655Q911,1640 930,1636L1125,1589Q1140,1584 1150,1587L1407,1705Q1432,1718 1432,1743V1900Q1432,1935 1412,1950L1150,2073Q1140,2078 1125,2068L934,2027Q911,2022 911,2005Z"/>
<path d="M920,1658Q920,1648 936,1643L1127,1596Q1140,1592 1150,1597L1400,1713Q1421,1725 1421,1743V1900Q1421,1925 1390,1950L1150,2062Q1138,2066 1125,2060L938,2018Q920,2013 920,2000Z"/>
<path d="M811,1600L904,1641M811,2056L904,2016"/>
<!-- turret rails -->
<path d="M1192,1545L1437,1665L1434,1672L1189,1552ZM1187,2108L1432,1988L1435,1995L1190,2115Z" class="w"/>
<path class="w" d="M1208,1547L1213,1550L1198,1580L1192,1577ZM1423,1653L1428,1656L1413,1687L1407,1684ZM1190,2082L1196,2080L1210,2112L1204,2114ZM1407,1977L1413,1975L1427,2006L1421,2008Z"/>
<path class="w" d="M1076,1539L1092,1552H1062Z"/><path d="M1060,1565L1102,1554M1061,1570L1103,1559M1057,2099L1100,2108M1056,2104L1099,2113"/>
<path class="w" d="M1063,2109L1082,2122L1063,2120Z"/>
<!-- right notched hatch -->
<path class="w" transform="translate(1330,1828)" d="M-28,-69A75,75 0 0 1 29,-68L27,-58A65,65 0 0 1 61,-27L70,-30A75,75 0 0 1 70,32L61,30A67,67 0 0 1 28,60L30,68A75,75 0 0 1 -30,68L-27,60A67,67 0 0 1 -61,30L-70,32A75,75 0 0 1 -70,-30L-61,-27A66,66 0 0 1 -28,-58Z"/>
<rect x="1357" y="1745" width="25" height="7" rx="3" class="w"/><circle cx="1369" cy="1748" r="4"/><rect x="1357" y="1910" width="25" height="7" rx="3" class="w"/><circle cx="1369" cy="1913" r="4"/>
<!-- right handle -->
<path class="w" d="M1472,1728H1479V1930H1472ZM1449,1743H1486V1749H1449ZM1449,1910H1486V1916H1449Z"/>
<path d="M1472,1812Q1465,1828 1472,1846M1479,1812Q1486,1828 1479,1846"/>

<!-- ============ TOP VIEW turret contents ============ -->
<g transform="translate(100,1300) scale(.7653,.6887)">
<ellipse cx="1375" cy="595" rx="110" ry="125"/>
<ellipse cx="1455" cy="595" rx="15" ry="16"/><ellipse cx="1455" cy="595" rx="9" ry="10"/>
<rect x="1222" y="547" width="73" height="93" rx="10" class="w" stroke-width="2.6"/>
<path d="M1232,557V595H1262V620M1285,557V640M1262,557V580M1262,600H1295M1240,557Q1232,575 1242,590"/><rect x="1226" y="602" width="20" height="32" rx="2"/><circle cx="1236" cy="610" r="4" class="k"/><circle cx="1236" cy="626" r="4" class="k"/>
<ellipse cx="1145" cy="588" rx="50" ry="55" class="w"/><ellipse cx="1145" cy="588" rx="38" ry="42"/><ellipse cx="1145" cy="945" rx="50" ry="55" class="w"/><ellipse cx="1145" cy="945" rx="38" ry="42"/>
<path class="dk2" style="stroke-width:7" d="M1125,548h0M1168,548h0M1190,585h0M1168,628h0M1125,628h0M1103,590h0M1125,908h0M1168,908h0M1188,945h0M1168,988h0M1125,988h0M1103,948h0"/>
<path class="wh2" style="stroke-width:3" d="M1125,548h0M1168,548h0M1190,585h0M1168,628h0M1125,628h0M1103,590h0M1125,908h0M1168,908h0M1188,945h0M1168,988h0M1125,988h0M1103,948h0"/>
<path d="M1086,645h29v6h-29zM1086,885h29v6h-29z"/><circle cx="1100" cy="648" r="7"/><circle cx="1100" cy="888" r="7"/>
<!-- cupola top -->
<ellipse cx="1363" cy="920" rx="157" ry="178" class="w"/><ellipse cx="1363" cy="925" rx="142" ry="160"/>
<path d="M1363,745V1095"/>
<path d="M1237,830L1298,835L1275,855H1248ZM1490,830L1430,835L1450,855H1478ZM1237,1010L1298,1005L1275,985H1248ZM1490,1010L1430,1005L1450,985H1478ZM1240,825V1040M1252,825V1040M1475,825V1040M1488,825V1040"/>
<ellipse cx="1305" cy="915" rx="45" ry="52" class="w"/><ellipse cx="1305" cy="915" rx="38" ry="44"/><ellipse cx="1300" cy="915" rx="28" ry="34"/>
<rect x="1291" y="888" width="22" height="60" stroke-width="3" class="w"/>
<path d="M1410,1092Q1430,1080 1450,1070M1378,748L1405,745" stroke-width="3"/>
<!-- cast cheeks -->
<path class="w" d="M832,605Q832,490 965,490Q1045,492 1045,600V880Q1045,1045 950,1045Q832,1045 832,895Z"/>
<path d="M920,490Q950,470 995,480V492M920,1045Q950,1060 995,1050V1040M1045,600H835M925,605V880M832,880H1045M975,600H1030V595M975,895H1030V1000M1045,600V880M1035,590V605"/>
<ellipse cx="1029" cy="578" rx="6" ry="8"/><ellipse cx="1027" cy="958" rx="6" ry="8"/>
<path class="w" d="M832,605H925V880H832Z"/>
<ellipse cx="850" cy="632" rx="5" ry="8"/>
<rect x="808" y="625" width="30" height="18"/>
<!-- gun -->
<path class="w" d="M676,652H832L905,755L860,878H676Z"/>
<path d="M676,660H822L890,755L848,870H676M676,652V878M820,652L835,668M705,652L760,720Q770,780 760,840L700,870M715,652L770,718Q782,780 770,840L710,870"/>
<path class="dk2" style="stroke-width:9" d="M756,695h0M823,695h0M756,822h0M823,822h0"/>
<path class="wh2" style="stroke-width:5" d="M756,695h0M823,695h0M756,822h0M823,822h0"/>
<path class="w" d="M62,725L705,722Q722,725 722,755Q722,785 705,787L62,775Z"/><path class="w" d="M30,722H62V778H30Z"/>
</g>

<!-- ============ FRONT VIEW ============ -->
<g transform="translate(127,3153)"><rect width="172" height="116" fill="url(#tp)"/></g>
<g transform="translate(127,3269)"><rect width="172" height="125" fill="url(#tq)"/><path stroke-width="3.2" d="M5,125H168M5,132H168M5,139H168M35,125V139M60,125V139M110,125V139M140,125V139"/></g>
<g transform="translate(952,3155)"><rect width="172" height="116" fill="url(#tp)"/></g>
<g transform="translate(952,3271)"><rect width="172" height="125" fill="url(#tq)"/><path stroke-width="3.2" d="M5,125H168M5,132H168M5,139H168M35,125V139M60,125V139M110,125V139M140,125V139"/></g>
<g transform="translate(100,2430) scale(.7015,.6569)">
<path stroke-width="3" d="M127,22V740"/>
<path class="w" style="stroke:#fff" d="M85,213H160V235H85Z"/>
<path d="M88,218Q125,215 158,213M88,232Q125,230 158,228"/>
<path stroke-width="3" d="M127,222V740"/>
<!-- cupola -->
<path d="M717,265V185L730,163H1040L1060,185V265M717,205H1060M730,163L735,155H810L815,163M960,163V155H1000V163M845,155V118H945V155M855,125H935V150H855Z"/>
<path class="w" d="M890,205L905,165Q925,150 945,165L960,210L975,240V262H885V240Z"/><path d="M885,240H972"/><ellipse cx="926" cy="185" rx="6" ry="16"/>
<rect x="728" y="246" width="36" height="14" rx="6" class="t"/><rect x="985" y="246" width="34" height="14" rx="6" class="t"/>
<path d="M875,255H885M875,265V250H975M850,262V232L858,228L862,262"/>
<path d="M548,150H607L612,255H540ZM525,265V252H640V265M660,262Q670,230 717,222M670,262Q680,240 717,232"/><circle cx="578" cy="220" r="5"/>
<rect x="622" y="225" width="22" height="38"/><path d="M640,235H665V262"/>
<!-- turret -->
<path class="w" d="M415,265H1090L1195,600L1165,660L1180,700H310L335,645L305,597Z"/>
<path d="M418,265H1087L1090,275H415ZM305,597L415,275M1195,600L1090,275M470,275L415,600M1030,275L1090,600M360,345Q370,335 378,345L385,358L392,352M1128,345Q1118,335 1110,345L1105,358L1098,352"/>
<circle cx="374" cy="343" r="6"/><circle cx="1130" cy="345" r="6"/><rect x="367" y="423" width="11" height="12"/><rect x="1126" y="423" width="10" height="12"/>
<path d="M342,462L352,450L362,462L352,478ZM1138,460L1150,450L1160,465L1148,478"/>
<path d="M595,320L540,312Q475,330 475,430V510Q490,580 595,610M862,320L920,312Q1018,330 1018,430V510Q1000,580 862,610M510,545L595,605M970,550L862,605"/>
<path d="M415,600L510,615L590,635M1090,600L990,615L862,630" stroke-width="2.4"/>
<path d="M448,432Q470,425 475,440L470,520Q480,570 497,580L475,590Q445,540 448,432ZM458,440Q465,440 465,450L460,520Q468,560 482,578L475,582Q455,540 458,440ZM1048,432Q1025,425 1020,440L1025,520Q1015,570 998,578L1020,590Q1048,540 1048,432ZM1038,440Q1030,440 1030,450L1035,520Q1028,560 1013,578L1020,582Q1040,540 1038,440Z"/>
<path d="M305,597Q360,590 415,600L420,610H330M1195,600Q1140,592 1090,600L1085,612H1170"/>
<path d="M320,630L340,682H345Q360,620 380,680H388M384,610Q400,650 395,682"/>
<path class="n" d="M420,625l8,40l6,-40M440,625l6,40l6,-40M460,625l4,40l6,-40M500,630l6,25l6,-25M520,630l6,25l4,-25M548,630l6,25l4,-25M890,630l6,25l4,-25M935,630l6,25l4,-25M990,630l6,25l4,-25M1030,630l6,30l4,-30M1060,630l6,30l4,-30M1080,625l6,35l4,-35M1100,618l6,45l4,-45M1120,618l6,45l4,-45M1135,618l6,45l4,-45M1150,618l6,45l4,-45"/>
<!-- mantlet -->
<path class="w" d="M595,320H862V637H595Z"/><path d="M585,305H875V320H585Z"/><circle cx="620" cy="442" r="7"/><circle cx="843" cy="422" r="6"/>
<path d="M645,460L690,385Q730,345 790,385L862,460V540Q860,565 830,567H665Q640,565 638,540Z" stroke-width="2.4"/><path d="M652,465L695,392Q730,355 785,392L852,462V538Q850,557 828,558H668Q648,555 648,538Z"/>
<circle cx="738" cy="420" r="35"/><circle cx="738" cy="420" r="27"/><circle cx="738" cy="420" r="17" stroke-width="2.8"/><circle cx="636" cy="465" r="6"/><circle cx="862" cy="465" r="5"/><circle cx="640" cy="540" r="4"/><circle cx="860" cy="520" r="4"/><circle cx="805" cy="395" r="4"/>
<rect x="612" y="478" width="22" height="36" rx="10"/><circle cx="623" cy="489" r="5"/><circle cx="623" cy="505" r="5"/>
<!-- hull -->
<path class="t" d="M310,685H1180"/><path d="M310,700H1180M315,670L310,700"/>
<path stroke-width="2.4" d="M310,700L145,905"/><path d="M296,710L150,880M1180,700L1360,905"/><path stroke-width="2.4" d="M1195,715L1365,915"/>
<path d="M320,905V1285H1175V905M320,1072H1175M320,1078H1175M315,1072V1160M1180,1072V1160M315,1160H1175M315,1167H1175"/>
<path class="t" d="M320,1072H1175M315,1160H1175"/>
<path d="M315,1285V1160M1180,1285V1160M300,1105V1290L320,1322M1195,1105V1295L1180,1320M315,1285L340,1335Q420,1322 420,1288M310,1285V1325L340,1335M1075,1288V1320Q1095,1335 1115,1335L1200,1330V1288M1095,1295Q1110,1315 1160,1315L1200,1330M340,1310H380L405,1288M660,1287L680,1298H810L835,1287"/>
<!-- fenders -->
<path class="w" d="M28,890H318V1105H65Q28,1100 28,1060Z"/>
<path class="w" d="M1180,905H1470V1065Q1470,1105 1430,1107H1180Z"/>
<path class="t" d="M60,915V1055M1437,920V1065"/>
<path d="M148,905V897H320V912M165,897H318M1180,912V903H1350V912M1165,950H1175V1030H1165M320,950H330V1030H320"/>
<path class="w" d="M28,890L60,865L130,860L145,905L60,908Z"/><path stroke-width="2.6" d="M32,880L65,870L90,880M32,888L65,878L100,888M40,895L70,885L115,895M55,903L90,892L130,900M95,868L130,880"/>
<!-- drums -->
<path d="M135,620H185V626H135ZM150,605H170V620H150M1320,612H1360V624H1320Z"/>
<ellipse cx="160" cy="712" rx="88" ry="92" class="w" stroke-width="3.2"/><ellipse cx="1340" cy="716" rx="88" ry="92" class="w" stroke-width="3.2"/>
<rect x="115" y="702" width="92" height="18"/><rect x="125" y="706" width="72" height="10"/><rect x="1295" y="707" width="92" height="22"/><rect x="1305" y="711" width="72" height="14"/>
<path stroke-width="3" d="M127,612V740"/>
<path d="M235,650L270,690L250,700M305,690L285,720L270,700M1170,660L1210,705L1240,675L1268,695L1240,740L1215,745L1190,710"/>
<path d="M127,740L118,758L127,768L136,758Z" class="w"/><path class="k" d="M119,768H135V795H119Z"/>
<path class="w" d="M97,795H153V850H97Z"/><path d="M165,810V860M180,805V860"/>
<path d="M1375,815H1470V915H1375ZM1385,830H1455V860H1385ZM1395,880H1445M1395,905V880M1445,905V880M1400,815L1420,800L1435,815M1450,855L1460,840"/>
<!-- glacis equipment -->
<path class="t" d="M262,765V745Q262,730 278,730H400Q412,732 412,745V765"/><path d="M270,765V748Q270,738 280,738H398Q404,740 404,748V765"/><ellipse cx="265" cy="765" rx="13" ry="7"/><ellipse cx="408" cy="765" rx="13" ry="7"/>
<path class="t" d="M1035,765V745Q1035,730 1050,730H1180Q1192,732 1192,745V765"/><path d="M1043,765V748Q1043,738 1052,738H1178Q1184,740 1184,748V765"/><ellipse cx="1033" cy="767" rx="13" ry="7"/><ellipse cx="1190" cy="767" rx="13" ry="7"/>
<path d="M375,890Q365,760 485,748Q600,755 600,890ZM387,880Q380,770 485,760Q590,765 590,880"/><circle cx="485" cy="822" r="60"/><circle cx="485" cy="825" r="48"/><circle cx="485" cy="820" r="6"/>
<path class="dk" style="stroke-width:7" d="M432,815h0M487,775h0M545,815h0M440,880h0M530,880h0"/>
<path class="w" d="M470,880V860Q475,848 487,848Q498,850 500,862V885Z"/><circle cx="487" cy="863" r="6"/>
<path stroke-width="2.4" d="M738,735Q738,727 748,727H990Q998,730 998,740V870Q990,895 970,897H765Q740,890 735,870Z"/>
<path d="M750,740Q750,735 760,735H860V795Q860,800 855,800H755Z M870,735H975Q985,738 985,745V800H875Q870,798 870,795ZM750,800H985M760,825H975M755,845H985"/>
<path d="M740,760H748M990,760H985"/><ellipse cx="767" cy="866" rx="13" ry="9"/><ellipse cx="967" cy="866" rx="13" ry="9"/>
<ellipse cx="1108" cy="803" rx="54" ry="56" stroke-width="3"/><ellipse cx="1108" cy="803" rx="45" ry="48" class="t"/>
<path class="k" d="M1063,803Q1108,830 1153,803A45,48 0 0 1 1063,803Z"/>
<path stroke-width="1.2" d="M1066,780H1150M1066,788H1150M1066,796H1150M1066,804H1150M1080,765V815M1095,760V820M1108,758V825M1122,760V820M1136,765V815"/>
<rect x="1095" y="868" width="22" height="24"/>
<path d="M378,905H588V925H378ZM708,902H1013V925H708Z"/>
<!-- hooks -->
<path d="M434,945Q434,938 445,938H522V968H445Q434,968 434,955ZM468,945V985L445,1020V1040H515V1020L495,985V945ZM478,950H490V985L505,1020V1030H455V1020L478,985Z"/>
<path d="M978,945Q978,938 990,938H1065V968H990Q978,968 978,955ZM1010,945V985L988,1020V1040H1055V1020L1032,985V945ZM1020,950H1030V985L1045,1020V1030H998V1020L1020,985Z"/>
<ellipse cx="370" cy="1020" rx="20" ry="15"/><ellipse cx="370" cy="1020" rx="10" ry="8"/><ellipse cx="1128" cy="1022" rx="20" ry="15"/><ellipse cx="1128" cy="1022" rx="10" ry="8"/>
</g>

<!-- ============ REAR VIEW ============ -->
<g transform="translate(1333,3088)"><rect width="168" height="116" fill="url(#tp)"/></g>
<g transform="translate(1333,3204)"><rect width="168" height="212" fill="url(#tq)"/></g>
<g transform="translate(2157,3088)"><rect width="168" height="116" fill="url(#tp)"/></g>
<g transform="translate(2157,3204)"><rect width="168" height="212" fill="url(#tq)"/></g>
<g transform="translate(1300,2430) scale(.7334,.6824)">
<path stroke-width="3" d="M1322,83V615"/>
<path class="w" style="stroke:#fff" d="M1290,218H1370V238H1290Z"/>
<path d="M1298,223Q1330,222 1365,218M1298,238Q1330,236 1365,232"/><path stroke-width="3" d="M1322,225V615"/>
<!-- cupola -->
<path d="M435,258V188L455,160H755L770,180V258M435,190H768M455,160V150H530V158M670,150H730V160M540,158H660M560,150V116H643V150"/>
<rect x="518" y="240" width="48" height="17" rx="7" class="t"/>
<path d="M612,258V230L622,222V258M630,258Q650,210 715,206Q775,210 810,258M640,255L655,240H675L685,258M760,258L755,240H785L800,258"/>
<path d="M862,150H920L938,245H845ZM815,260V220H838V260M838,245H945V260H838M870,220H882V245"/>
<!-- turret -->
<path class="w" d="M405,260H1045L1150,580L1145,598H1120Q1105,605 1115,612L1045,610H345L320,600H302L298,580Z"/>
<path d="M400,262Q520,262 1050,262"/><path d="M345,603L330,628M1090,605L1135,655"/>
<path d="M565,310L518,505M885,310L930,505"/>
<path stroke-width="2.4" d="M585,351H855"/><path d="M585,358H855M600,342V380H608V342M828,342V380H838V342"/>
<circle cx="723" cy="460" r="20" stroke-width="3"/><circle cx="723" cy="460" r="8"/>
<path d="M342,350H480M345,358H480M345,350Q340,340 352,342L385,378L365,378L358,360M480,345L525,358L518,380L495,362"/>
<path d="M958,350H1098M960,358H1092M1100,345Q1105,355 1095,360L1070,378L1060,358M960,345L918,358L925,378L945,360"/>
<path d="M330,445L345,432V462M1120,445L1105,432V462"/>
<!-- hull -->
<path d="M345,610H1095L1145,675L1305,890M345,610L300,670L135,885M300,670H1145"/>
<path stroke-width="2.4" d="M300,668H1145"/><path d="M305,678L150,885M1135,678L1312,890"/>
<path d="M710,670Q720,640 738,670"/>
<rect x="403" y="603" width="640" height="32" fill="url(#mesh)"/>
<path stroke-width="2.4" d="M403,603H1043V635H403Z"/><path class="t" d="M535,600V635M655,595V635M785,595V635M905,600V635"/>
<path class="w" d="M423,560H431V625H423ZM560,560H568V645H560ZM878,560H886V645H878ZM1018,560H1026V625H1018Z"/>
<ellipse cx="564" cy="650" rx="14" ry="7"/><ellipse cx="882" cy="650" rx="14" ry="7"/>
<rect x="355" y="660" width="182" height="24"/><path d="M355,672H537M375,660V684M400,660V684M425,660V684M450,660V684M475,660V684M500,660V684"/>
<rect x="908" y="660" width="182" height="24"/><path d="M908,672H1090M930,660V684M955,660V684M980,660V684M1005,660V684M1030,660V684M1055,660V684"/>
<defs><path id="rr" d="M325,678h0M292,722h0M260,767h0M223,810h0M190,853h0M265,853h0M338,853h0M338,897h0M338,938h0M338,978h0M405,975h0M490,975h0M568,975h0M640,975h0M718,975h0M797,975h0M875,975h0M950,975h0M1030,975h0M1107,975h0M1107,938h0M1107,897h0M1107,855h0M1180,853h0M1253,853h0M1115,678h0M1145,725h0M1187,768h0M1218,810h0"/></defs>
<use href="#rr" class="dk"/><use href="#rr" class="wh"/>
<!-- rails -->
<path class="t" d="M345,770V745Q347,730 362,730H570Q583,732 583,745V772"/><path d="M353,770V748Q355,738 365,738H568Q575,740 575,748V772"/><ellipse cx="348" cy="772" rx="13" ry="7"/><ellipse cx="580" cy="772" rx="13" ry="7"/>
<path class="t" d="M875,740V715Q878,702 892,702H1100Q1113,704 1113,718V742"/><path d="M883,740V720Q885,710 895,710H1098Q1105,712 1105,720V742"/><ellipse cx="878" cy="742" rx="13" ry="7"/><ellipse cx="1108" cy="742" rx="13" ry="7"/>
<!-- exhaust -->
<path d="M432,890V790Q440,742 495,740Q555,745 565,795V890H535L525,860Q498,835 470,860L460,890Z"/><path d="M445,880V795Q452,755 497,753Q545,755 553,795V880"/><path d="M462,850V790Q470,760 498,758Q525,760 532,790V850"/>
<circle cx="497" cy="885" r="25" class="w"/><rect x="470" y="850" width="54" height="30" rx="10" class="w"/>
<path d="M882,890V790Q890,742 942,738Q1003,742 1015,795V890H985L975,860Q945,835 920,860L910,890Z"/><path d="M895,880V795Q902,755 945,753Q995,755 1003,795V880"/><path d="M912,850V790Q920,762 945,760Q975,762 985,790V850"/>
<circle cx="945" cy="888" r="25" class="w"/><rect x="918" y="850" width="55" height="30" rx="10" class="w"/>
<path class="dk" style="stroke-width:8" d="M497,745h0M445,790h0M445,822h0M445,855h0M550,790h0M550,830h0M550,860h0M895,790h0M895,825h0M895,860h0M1002,790h0M1002,828h0M1002,858h0M945,745h0"/>
<ellipse cx="730" cy="815" rx="122" ry="92" stroke-width="2.2"/>
<path d="M695,762Q710,755 713,738H745Q750,755 775,765M703,762Q715,760 720,745H740Q745,760 765,765"/>
<defs><path id="rh" d="M735,732h0M655,760h0M805,760h0M622,815h0M838,815h0M655,870h0M805,870h0"/></defs>
<use href="#rh" class="dk"/><use href="#rh" class="wh"/>
<path class="w" d="M690,885Q695,875 710,875H760Q780,875 780,888V930Q775,938 760,938H710Q692,938 690,930Z"/><path d="M690,895H780V912H690ZM708,895V912M725,895V912M742,895V912M760,895V912M692,925H778"/>
<!-- lower -->
<path class="w" d="M33,880H310V955H160L140,968L130,960H60Q33,958 33,930Z"/>
<path class="w" d="M1132,880H1412V940Q1410,958 1385,960H1140V900Z"/>
<path d="M33,880H300Q312,885 313,900V990M1132,900Q1135,880 1150,882"/><path class="t" d="M62,895V940M1380,900V945"/>
<path d="M310,880V960M130,960L45,965M1410,940V960"/>
<path d="M135,960Q160,965 275,965L300,990M1305,960H1170L1140,990V1010"/>
<path class="t" d="M313,995H1130"/><path d="M313,1012H1130M313,1000H400M530,1000H920M1050,1000H1130"/>
<path class="w" d="M388,1008L415,990L430,970H478L498,990L530,1000V1008H500V1030L485,1050H415L400,1035V1008Z"/><path d="M435,990H465V1015H435ZM420,978H490M435,1015H465"/><circle cx="405" cy="990" r="4"/>
<path class="w" d="M915,1008L942,990L958,970H1003L1025,990L1050,1000V1008H1030V1030L1010,1050H965L945,1035V1008Z"/><path d="M980,990H1008V1015H980ZM955,978H1020"/>
<path d="M315,1012V1040H1130V1012M333,1040Q400,1040 408,1055V1280Q405,1293 385,1293H333ZM1115,1045H1060Q1038,1050 1037,1070V1280Q1040,1293 1060,1293H1115ZM408,1240H1037M408,1247H1037M635,1247L650,1255H780L805,1247"/>
<path d="M300,1040H333V1288H300ZM1115,1043H1145V1290H1115Z"/><path d="M290,1250L300,1260M1150,1250L1145,1260"/>
<path stroke-width="2.4" d="M300,985V1040M1140,985V1040"/>
<rect x="710" y="1050" width="24" height="82"/>
<path d="M467,1065Q495,1055 520,1065L505,1125L500,1160H485L482,1125ZM475,1070L492,1125M512,1070L495,1125M450,1140H475V1170H450ZM510,1140H535V1170H510ZM475,1160H510V1180H475Z"/>
<path d="M923,1065Q950,1055 978,1065L963,1125L958,1160H942L938,1125ZM930,1070L950,1125M970,1070L953,1125M908,1140H935V1170H908ZM968,1140H993V1170H968ZM935,1160H968V1180H935Z"/>
<!-- drums -->
<path d="M132,600H178V606H132ZM148,590H162V600M1270,600H1315V606H1270ZM1285,590H1300V600"/>
<ellipse cx="158" cy="695" rx="83" ry="88" class="w" stroke-width="3.2"/><ellipse cx="1288" cy="695" rx="83" ry="88" class="w" stroke-width="3.2"/>
<rect x="115" y="683" width="88" height="22"/><rect x="125" y="688" width="68" height="12"/><rect x="1245" y="687" width="88" height="22"/><rect x="1255" y="692" width="68" height="12"/>
<path d="M233,640L268,680M285,665L280,680M1180,670L1215,640M130,785L160,815M1295,810L1320,785M1270,815L1300,850L1320,845"/>
<path d="M35,860V785H132V860ZM60,835Q62,800 85,775Q110,805 112,835ZM38,842H135V860H38ZM38,860H135V885H38ZM1320,845H1410V885H1320ZM1340,870H1385M1340,885V870M1385,885V870"/>
<circle cx="45" cy="850" r="7"/><circle cx="125" cy="850" r="7"/><circle cx="45" cy="875" r="7"/><circle cx="125" cy="875" r="7"/>
<!-- logo -->
<ellipse cx="1330" cy="1505" rx="30" ry="32" stroke-width="2.4"/>
</g>
<text x="2275" y="3471" font-size="40" text-anchor="middle" fill="#222">C</text>
<text x="2345" y="3441" font-size="28" style="fill:#fff;stroke:#111;stroke-width:1.4" font-weight="bold" textLength="78" lengthAdjust="spacingAndGlyphs">ОКВ</text>
<text x="2327" y="3487" font-size="50" style="fill:#fff;stroke:#111;stroke-width:1.8" font-weight="bold" textLength="122" lengthAdjust="spacingAndGlyphs">МОК</text>
</svg>
</body></html>
